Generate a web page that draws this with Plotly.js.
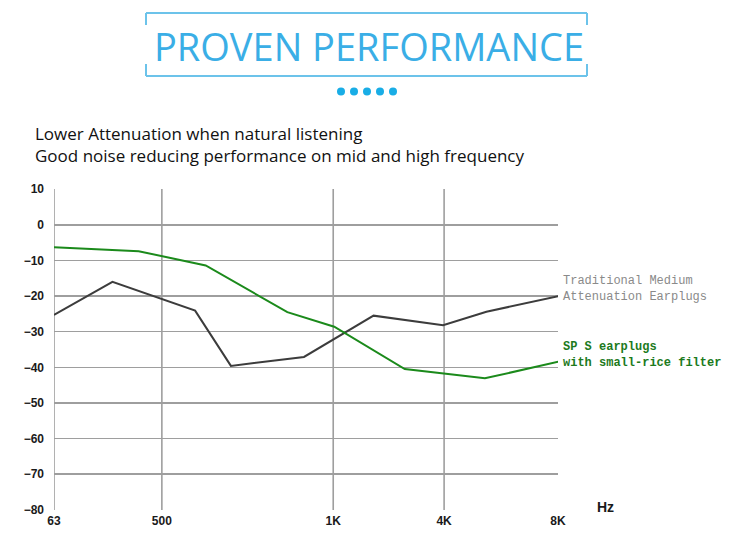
<!DOCTYPE html>
<html>
<head>
<meta charset="utf-8">
<script src="https://cdn.plot.ly/plotly-3.0.1.min.js"></script>
<style>
  html, body { margin: 0; padding: 0; background: #ffffff; }
  #chart { width: 750px; height: 547px; }
</style>
</head>
<body>
<div id="chart"></div>
<script>
// Frequency axis: labelled positions along the horizontal scale (0..100)
const freqTickPos = [0, 21.4, 55.4, 77.4, 100];
const freqTickText = ['63', '500', '1K', '4K', '8K'];
const gridPos = [0, 21.4, 55.4, 77.4];

// Attenuation curves (dB)
const traditionalX = [0, 11.6, 28.0, 35.1, 49.6, 63.4, 77.2, 85.8, 100.5];
const traditionalY = [-25.3, -16.0, -24.1, -39.6, -37.1, -25.5, -28.2, -24.4, -19.9];

const spsX = [0, 11.4, 16.8, 30.1, 46.3, 55.6, 69.6, 85.5, 100.5];
const spsY = [-6.3, -7.1, -7.4, -11.4, -24.5, -28.6, -40.5, -43.1, -38.3];

const yTicks = [10, 0, -10, -20, -30, -40, -50, -60, -70, -80];

// Plot area in pixels
const W = 750, H = 547;
const L = 54, R = 558, T = 189, B = 510;
const px = v => (v - L) / (R - L);
const py = v => (B - v) / (B - T);

const frameColor = '#6cc3ea';
const dotColor = '#19ade6';
const gridColor = '#9e9e9e';

const shapes = [];
// vertical grid lines at the labelled frequencies (none at the right end)
gridPos.forEach(g => shapes.push({
  type: 'line', xref: 'x', yref: 'paper', x0: g, x1: g, y0: 0, y1: 1,
  layer: 'below', line: { color: gridColor, width: 1.6 }
}));
// bracket frame around the heading
const fx0 = 146, fx1 = 587, fy0 = 13, fy1 = 76;
const seg = (x0, y0, x1, y1) => shapes.push({
  type: 'line', xref: 'paper', yref: 'paper',
  x0: px(x0), y0: py(y0), x1: px(x1), y1: py(y1),
  line: { color: frameColor, width: 2 }
});
seg(fx0, fy0, fx1, fy0);
seg(fx0, fy1, fx1, fy1);
seg(fx0, fy0, fx0, 25);
seg(fx0, 64, fx0, fy1);
seg(fx1, fy0, fx1, 25);
seg(fx1, 64, fx1, fy1);
// row of dots under the heading
[341, 354, 367, 380, 393].forEach(cx => {
  shapes.push({
    type: 'circle', xref: 'paper', yref: 'paper',
    x0: px(cx - 4), x1: px(cx + 4), y0: py(91.5 + 4), y1: py(91.5 - 4),
    fillcolor: dotColor, line: { width: 0 }
  });
});

const traces = [
  {
    x: traditionalX, y: traditionalY, type: 'scatter', mode: 'lines',
    line: { color: '#3c3c3c', width: 2 }, cliponaxis: false,
    hoverinfo: 'skip', showlegend: false
  },
  {
    x: spsX, y: spsY, type: 'scatter', mode: 'lines',
    line: { color: '#1b8a1b', width: 2 }, cliponaxis: false,
    hoverinfo: 'skip', showlegend: false
  }
];

const tickFont = { family: 'Liberation Sans, Arial, sans-serif', size: 12, color: '#1a1a1a', weight: 'bold' };

const layout = {
  width: W, height: H,
  margin: { l: L, r: W - R, t: T, b: H - B, pad: 0 },
  paper_bgcolor: '#ffffff', plot_bgcolor: '#ffffff',
  showlegend: false,
  xaxis: {
    range: [0, 100], tickmode: 'array', tickvals: freqTickPos, ticktext: freqTickText,
    showgrid: false, zeroline: false, showline: false, ticks: '',
    tickfont: tickFont, ticklabelstandoff: 2, fixedrange: true
  },
  yaxis: {
    range: [-80.06, 10.06], tickmode: 'array', tickvals: yTicks,
    showgrid: true, gridcolor: gridColor, gridwidth: 1.6,
    zeroline: false, showline: false, ticks: '',
    tickfont: tickFont, ticklabelstandoff: 9, fixedrange: true
  },
  shapes: shapes,
  annotations: [
    {
      xref: 'paper', yref: 'paper', x: px(369), y: py(46), xanchor: 'center', yanchor: 'middle',
      text: 'PROVEN PERFORMANCE', showarrow: false,
      font: { family: 'Open Sans, Noto Sans, sans-serif', size: 38, color: '#3aaee6', weight: 500 }
    },
    {
      xref: 'paper', yref: 'paper', x: px(33), y: py(144), xanchor: 'left', yanchor: 'middle',
      align: 'left', showarrow: false,
      text: 'Lower Attenuation when natural listening<br>Good noise reducing performance on mid and high frequency',
      font: { family: 'Open Sans, Noto Sans, sans-serif', size: 17, color: '#111111' }
    },
    {
      xref: 'paper', yref: 'paper', x: px(561), y: py(288.5), xanchor: 'left', yanchor: 'middle',
      align: 'left', showarrow: false,
      text: 'Traditional Medium<br>Attenuation Earplugs',
      font: { family: 'Liberation Mono, DejaVu Sans Mono, monospace', size: 12, color: '#8a8a8a' }
    },
    {
      xref: 'paper', yref: 'paper', x: px(561), y: py(354.5), xanchor: 'left', yanchor: 'middle',
      align: 'left', showarrow: false,
      text: '<b>SP S earplugs<br>with small-rice filter</b>',
      font: { family: 'Liberation Mono, DejaVu Sans Mono, monospace', size: 12, color: '#1c7a1c' }
    },
    {
      xref: 'paper', yref: 'paper', x: px(605), y: py(507), xanchor: 'center', yanchor: 'middle',
      text: '<b>Hz</b>', showarrow: false,
      font: { family: 'Liberation Sans, Arial, sans-serif', size: 14, color: '#1a1a1a' }
    }
  ]
};

Plotly.newPlot('chart', traces, layout, { staticPlot: true, displayModeBar: false });
</script>
</body>
</html>
